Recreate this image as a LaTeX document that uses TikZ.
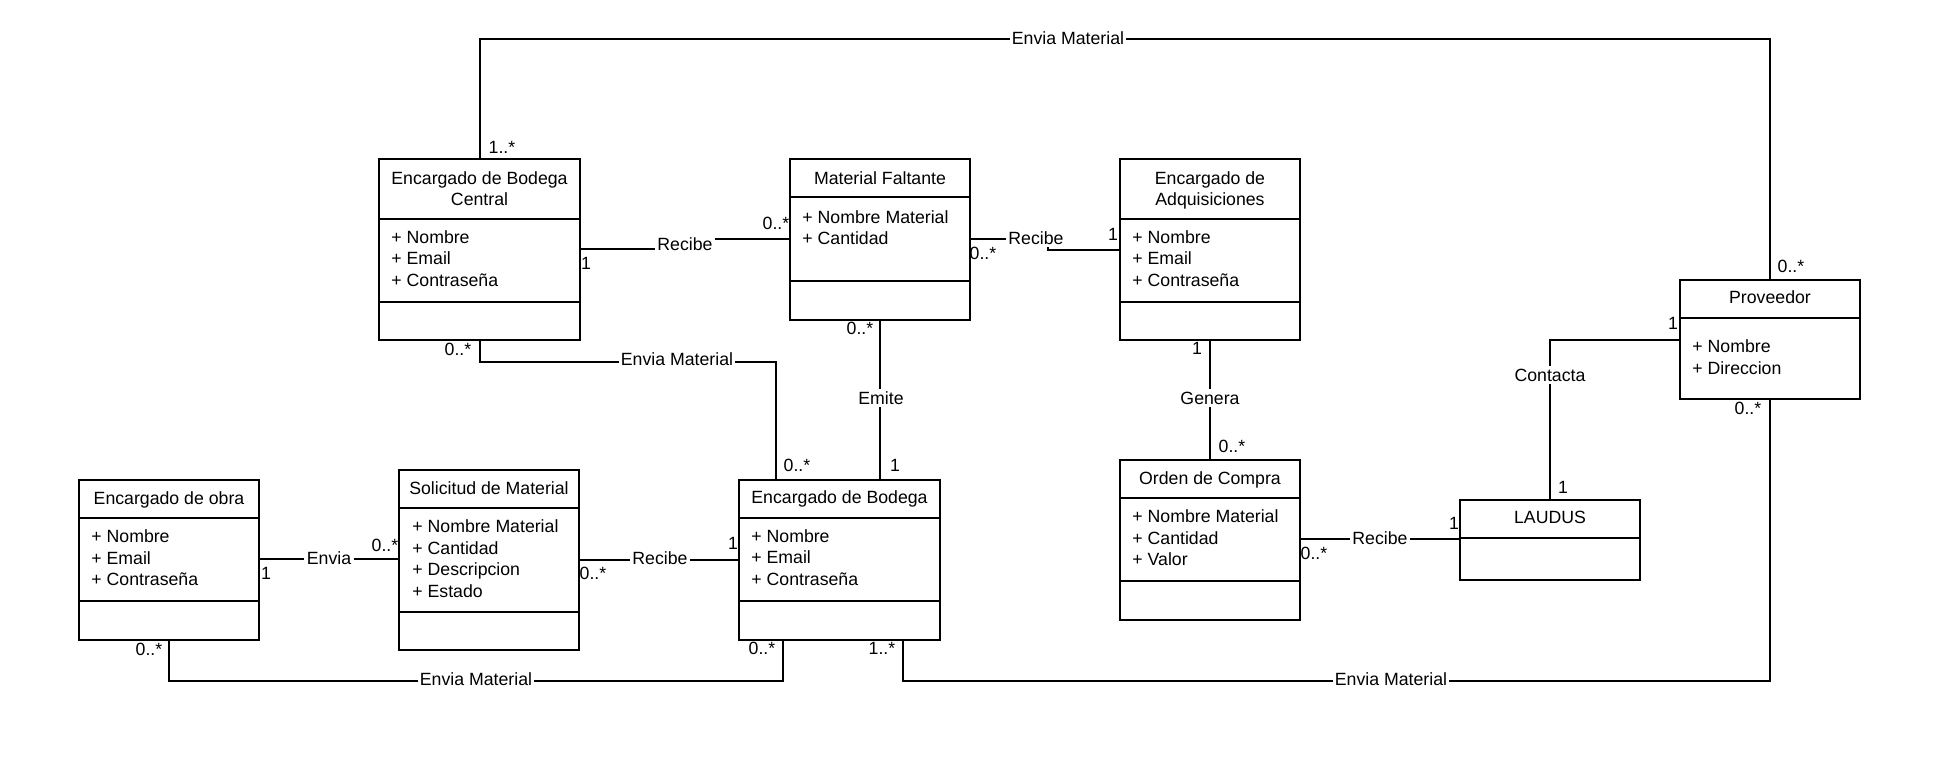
\documentclass[tikz,border=0pt]{standalone}
\usepackage{fontspec}
\setmainfont{Liberation Sans}
\usetikzlibrary{fit,calc}
\newcommand\ftext{\fontsize{8.85}{10.75}\selectfont}
% one class box: name, left, top, right, bottom (picture units)
\newcommand\umlclass[5]{%
  \coordinate (#1-nw) at (#2,#3);
  \coordinate (#1-se) at (#4,#5);
  \node[classframe, fit=(#1-nw)(#1-se)] (#1) {};
}
\tikzset{
  classframe/.style={draw, line width=1.15pt, inner sep=0pt},
  divider/.style={line width=1.15pt},
  conn/.style={line width=1pt},
  % multi-line texts are placed by the baseline of their last line
  head/.style={font=\ftext, align=center, inner sep=0pt, anchor=base},
  attrs/.style={font=\ftext, align=left, inner sep=0pt, anchor=base west},
  lbl/.style={font=\ftext, fill=white, inner sep=1.2pt, text height=6.4pt, text depth=0pt},
  mult/.style={font=\ftext, inner sep=0pt, text height=6.4pt, text depth=0pt},
}
\begin{document}
\begin{tikzpicture}[x=0.5pt, y=-0.5pt]
\useasboundingbox (0,0) rectangle (1944,777);
\fill[white] (0,0) rectangle (1944,777);

% ---------- classes ----------
\umlclass{bc}{379}{159}{580}{340}
\draw[divider] (bc.west |- 0,219) -- (bc.east |- 0,219);
\draw[divider] (bc.west |- 0,302) -- (bc.east |- 0,302);
\node[head] (bc-name) at (479.5,205.5) {Encargado de Bodega\\Central};
\node[attrs] (bc-attr) at (391,286) {+ Nombre\\+ Email\\+ Contraseña};

\umlclass{mf}{790}{159}{970}{320}
\draw[divider] (mf.west |- 0,197) -- (mf.east |- 0,197);
\draw[divider] (mf.west |- 0,281) -- (mf.east |- 0,281);
\node[head] (mf-name) at (880,184) {Material Faltante};
\node[attrs] (mf-attr) at (802,244.5) {+ Nombre Material\\+ Cantidad};

\umlclass{adq}{1120}{159}{1300}{340}
\draw[divider] (adq.west |- 0,219) -- (adq.east |- 0,219);
\draw[divider] (adq.west |- 0,302) -- (adq.east |- 0,302);
\node[head] (adq-name) at (1210,205.5) {Encargado de\\Adquisiciones};
\node[attrs] (adq-attr) at (1132,286) {+ Nombre\\+ Email\\+ Contraseña};

\umlclass{prov}{1680}{280}{1860}{399}
\draw[divider] (prov.west |- 0,318) -- (prov.east |- 0,318);
\node[head] (prov-name) at (1770,303) {Proveedor};
\node[attrs] (prov-attr) at (1692,374) {+ Nombre\\+ Direccion};

\umlclass{obra}{79}{480}{259}{640}
\draw[divider] (obra.west |- 0,518) -- (obra.east |- 0,518);
\draw[divider] (obra.west |- 0,601) -- (obra.east |- 0,601);
\node[head] (obra-name) at (169,504) {Encargado de obra};
\node[attrs] (obra-attr) at (91,585.5) {+ Nombre\\+ Email\\+ Contraseña};

\umlclass{sol}{399}{470}{579}{650}
\draw[divider] (sol.west |- 0,508) -- (sol.east |- 0,508);
\draw[divider] (sol.west |- 0,612) -- (sol.east |- 0,612);
\node[head] (sol-name) at (489,494) {Solicitud de Material};
\node[attrs] (sol-attr) at (412,597) {+ Nombre Material\\+ Cantidad\\+ Descripcion\\+ Estado};

\umlclass{bod}{739}{480}{940}{640}
\draw[divider] (bod.west |- 0,518) -- (bod.east |- 0,518);
\draw[divider] (bod.west |- 0,601) -- (bod.east |- 0,601);
\node[head] (bod-name) at (839.5,503) {Encargado de Bodega};
\node[attrs] (bod-attr) at (751,585) {+ Nombre\\+ Email\\+ Contraseña};

\umlclass{ord}{1120}{460}{1300}{620}
\draw[divider] (ord.west |- 0,498) -- (ord.east |- 0,498);
\draw[divider] (ord.west |- 0,581) -- (ord.east |- 0,581);
\node[head] (ord-name) at (1210,484) {Orden de Compra};
\node[attrs] (ord-attr) at (1132,565.5) {+ Nombre Material\\+ Cantidad\\+ Valor};

\umlclass{laudus}{1460}{500}{1640}{580}
\draw[divider] (laudus.west |- 0,538) -- (laudus.east |- 0,538);
\node[head] (laudus-name) at (1550,523) {LAUDUS};

% ---------- associations ----------
\draw[conn] (bc.north) -- ++(0,-119) -| (prov.north);
\draw[conn] (bc.east |- 0,249) -- (685,249) -- (685,239) -- (mf.west |- 0,239);
\draw[conn] (mf.east |- 0,239) -- (1048,239) -- (1048,250) -- (adq.west |- 0,250);
\draw[conn] (bc.south) -- ++(0,21) -| (bod.north -| 776,0);
\draw[conn] (mf.south) -- (mf.south |- bod.north);
\draw[conn] (adq.south) -- (ord.north);
\draw[conn] (obra.east |- 0,559) -- (sol.west |- 0,559);
\draw[conn] (sol.east |- 0,560) -- (bod.west |- 0,560);
\draw[conn] (ord.east |- 0,539) -- (laudus.west |- 0,539);
\draw[conn] (laudus.north) |- (prov.west |- 0,340);
\draw[conn] (obra.south) -- (obra.south |- 0,681) -| (bod.south -| 783,0);
\draw[conn] (bod.south -| 903,0) -- (903,681) -| (prov.south);

% ---------- association names ----------
\node[lbl] (l-top)    at (1068,38)  {Envia Material};
\node[lbl] (l-bcmf)   at (685,244)  {Recibe};
\node[lbl] (l-mfadq)  at (1036,238) {Recibe};
\node[lbl] (l-bcbod)  at (677,359)  {Envia Material};
\node[lbl] (l-emite)  at (881,398)  {Emite};
\node[lbl] (l-genera) at (1210,398) {Genera};
\node[lbl] (l-envia)  at (329,558)  {Envia};
\node[lbl] (l-solbod) at (660,558)  {Recibe};
\node[lbl] (l-ordlau) at (1380,538) {Recibe};
\node[lbl] (l-cont)   at (1550,375) {Contacta};
\node[lbl] (l-obrab)  at (476,679)  {Envia Material};
\node[lbl] (l-bodpr)  at (1391,679) {Envia Material};

% ---------- multiplicities ----------
\node[mult] (m1)  at (502,147)  {1..*};
\node[mult] (m2)  at (1791,266) {0..*};
\node[mult] (m3)  at (586,263)  {1};
\node[mult] (m4)  at (776,223)  {0..*};
\node[mult] (m5)  at (983,253)  {0..*};
\node[mult] (m6)  at (1113,234) {1};
\node[mult] (m7)  at (458,349)  {0..*};
\node[mult] (m8)  at (797,465)  {0..*};
\node[mult] (m9)  at (860,328)  {0..*};
\node[mult] (m10) at (895,465)  {1};
\node[mult] (m11) at (1197,348) {1};
\node[mult] (m12) at (1232,446) {0..*};
\node[mult] (m13) at (266,573)  {1};
\node[mult] (m14) at (385,545)  {0..*};
\node[mult] (m15) at (593,573)  {0..*};
\node[mult] (m16) at (733,543)  {1};
\node[mult] (m17) at (1314,553) {0..*};
\node[mult] (m18) at (1454,523) {1};
\node[mult] (m19) at (1563,487) {1};
\node[mult] (m20) at (1673,323) {1};
\node[mult] (m21) at (149,649)  {0..*};
\node[mult] (m22) at (762,648)  {0..*};
\node[mult] (m23) at (882,648)  {1..*};
\node[mult] (m24) at (1748,408) {0..*};
\end{tikzpicture}
\end{document}
